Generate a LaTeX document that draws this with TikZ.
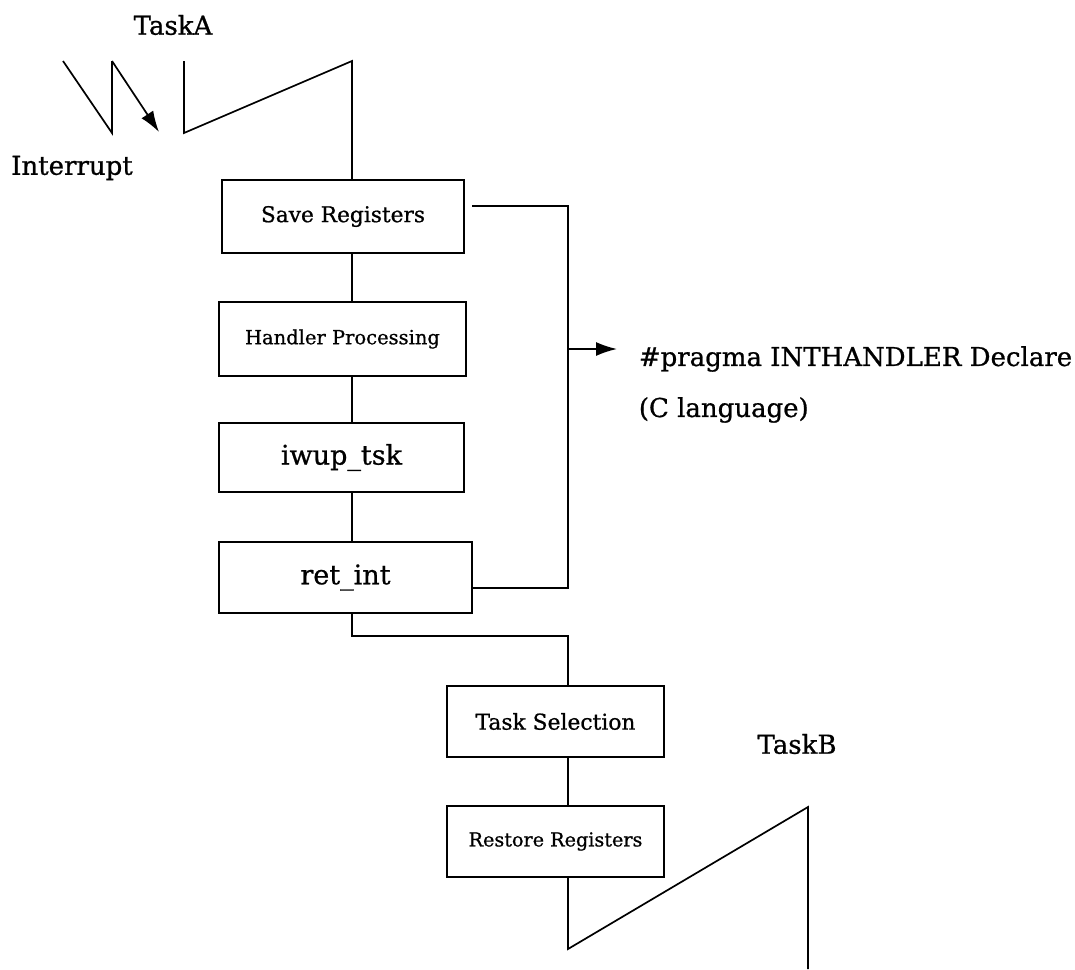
\documentclass[tikz,border=0pt]{standalone}
\usepackage{fontspec}
\setmainfont{DejaVu Serif}[FakeBold=0.8]
\usetikzlibrary{arrows.meta}
\begin{document}
\begin{tikzpicture}[x=1pt,y=-1pt,line width=1.7pt,
  box/.style={draw,rectangle,inner sep=0pt,line width=1.7pt},
  lbl/.style={inner sep=0pt},
  tip/.style={-{Latex[length=21pt,width=14pt]}}]
\useasboundingbox (0,0) rectangle (1075,969);
% boxes
\node[box,minimum width=242pt,minimum height=73pt,font=\fontsize{21.7}{24}\selectfont] (save) at (343,216.5) {Save Registers};
\node[box,minimum width=247pt,minimum height=74pt,font=\fontsize{19.5}{22}\selectfont] (hand) at (342.5,339) {Handler Processing};
\node[box,minimum width=245pt,minimum height=69pt,font=\fontsize{27}{30}\selectfont] (iwup) at (341.5,457.5) {iwup\_tsk};
\node[box,minimum width=253pt,minimum height=71pt,font=\fontsize{27}{30}\selectfont] (ret) at (345.5,577.5) {ret\_int};
\node[box,minimum width=217pt,minimum height=71pt,font=\fontsize{21.8}{24}\selectfont] (tsel) at (555.5,721.5) {Task Selection};
\node[box,minimum width=217pt,minimum height=71pt,font=\fontsize{19.2}{22}\selectfont] (rest) at (555.5,841.5) {Restore Registers};
% labels
\node[lbl,font=\fontsize{26}{29}\selectfont] (taskA) at (173,25) {TaskA};
\node[lbl,font=\fontsize{26}{29}\selectfont] (intr) at (72,168) {Interrupt};
\node[lbl,font=\fontsize{26}{29}\selectfont] (taskB) at (797,744) {TaskB};
\node[lbl,anchor=west,font=\fontsize{26}{29}\selectfont] (prag) at (638,359) {\#pragma INTHANDLER Declare};
\node[lbl,anchor=west,font=\fontsize{26}{29}\selectfont] (clang) at (638,410) {(C language)};
% coordinates
\coordinate (c1) at (352,0);
\coordinate (c2) at (568,0);
\coordinate (ia) at (63,61);
\coordinate (ib) at (112,133);
\coordinate (ic) at (112,61);
\coordinate (id) at (159,132);
\coordinate (ta1) at (184,61);
\coordinate (ta2) at (184,133);
\coordinate (ta3) at (352,61);
\coordinate (br1) at (472,206);
\coordinate (br2) at (568,206);
\coordinate (br3) at (568,588);
\coordinate (am) at (568,349);
\coordinate (at) at (617,349);
\coordinate (r1) at (352,636);
\coordinate (r2) at (568,636);
\coordinate (tb1) at (568,949);
\coordinate (tb2) at (808,807);
\coordinate (tb3) at (808,969);
% interrupt zigzag
\draw (ia) -- (ib) -- (ic);
\draw[tip] (ic) -- (id);
% task A
\draw (ta1) -- (ta2) -- (ta3) -- (save.north -| c1);
% chain
\draw (save.south -| c1) -- (hand.north -| c1);
\draw (hand.south -| c1) -- (iwup.north -| c1);
\draw (iwup.south -| c1) -- (ret.north -| c1);
\draw (ret.south -| c1) -- (r1) -- (r2) -- (tsel.north -| c2);
\draw (tsel.south -| c2) -- (rest.north -| c2);
% bracket
\draw (br1) -- (br2) -- (br3) -- (ret.east |- br3);
\draw[tip] (am) -- (at);
% task B
\draw (rest.south -| c2) -- (tb1) -- (tb2) -- (tb3);
\end{tikzpicture}
\end{document}
